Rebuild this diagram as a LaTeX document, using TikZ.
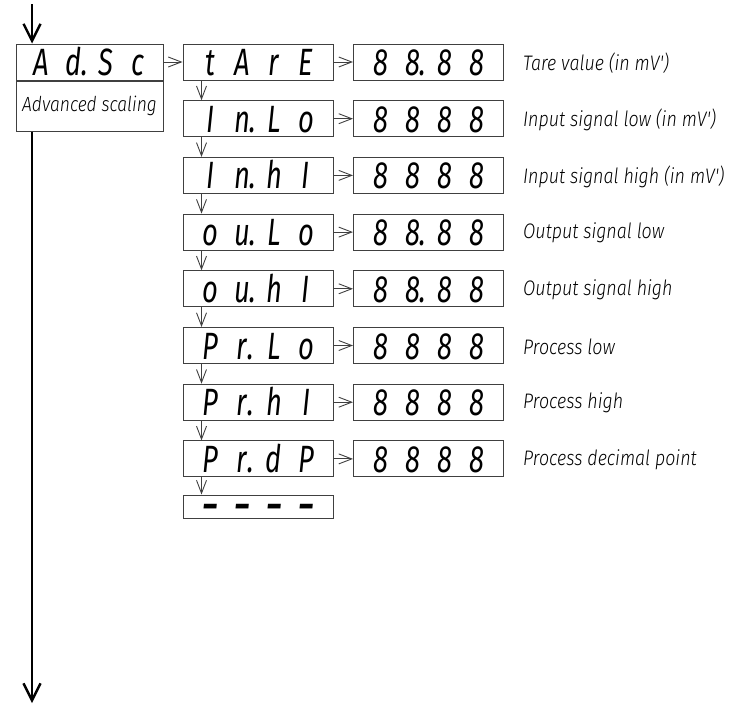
\documentclass[tikz,border=0pt]{standalone}
\usepackage{fontspec}
\usetikzlibrary{arrows.meta,positioning}
\newfontfamily\segfont{Fira Sans}[FakeStretch=0.72]
\newfontfamily\lblfont{Fira Sans Light Italic}[FakeStretch=0.85]
\definecolor{frame}{HTML}{404040}
\newcommand\cell[1]{\makebox[32pt]{#1}}
\newcommand\dpt{\rlap{.}}
\newcommand\disp[4]{\cell{#1}\cell{#2}\cell{#3}\cell{#4}}
\tikzset{
  disp/.style={draw=frame,line width=1pt,minimum width=150pt,minimum height=36pt,inner sep=0pt,
    text height=27pt,text depth=0pt,font=\fontsize{38}{40}\segfont\itshape},
  hdr/.style={disp,minimum width=147pt},
  hdrbody/.style={draw=frame,line width=1pt,minimum width=147pt,minimum height=50pt,inner sep=0pt,
    font=\fontsize{20.5}{22}\lblfont},
  dashes/.style={disp,minimum height=19pt,text height=23pt,font=\fontsize{38}{40}\segfont\bfseries\itshape},
  descr/.style={anchor=west,inner sep=0pt,font=\fontsize{21}{23}\lblfont},
  sarr/.style={-{Straight Barb[length=13pt,width=10pt]},frame,line width=0.9pt},
  mainarr/.style={-{Straight Barb[length=17pt,width=17pt]},black,line width=2.4pt},
}
\begin{document}
\begin{tikzpicture}[x=1pt,y=-1pt]
  \useasboundingbox (0,0) rectangle (739,704);
  \node[hdr] (menu) at (89.5,62) {\disp{A}{d\dpt}{S}{c}};
  \node[hdrbody,below=0pt of menu] (menubody) {Advanced scaling};
  \coordinate (in) at (32,4);
  \coordinate (out) at (32,703);
  \draw[mainarr] (in) -- (in |- menu.north);
  \draw[mainarr] (out |- menubody.south) -- (out);
  \foreach \nm/\val/\txt [count=\k from 0] in {
      \disp{t}{A}{r}{E}/\disp{8}{8\dpt}{8}{8}/Tare value (in mV'),
      \disp{I}{n\dpt}{L}{o}/\disp{8}{8}{8}{8}/Input signal low (in mV'),
      \disp{I}{n\dpt}{h}{I}/\disp{8}{8}{8}{8}/Input signal high (in mV'),
      \disp{o}{u\dpt}{L}{o}/\disp{8}{8\dpt}{8}{8}/Output signal low,
      \disp{o}{u\dpt}{h}{I}/\disp{8}{8\dpt}{8}{8}/Output signal high,
      \disp{P}{r\dpt}{L}{o}/\disp{8}{8}{8}{8}/Process low,
      \disp{P}{r\dpt}{h}{I}/\disp{8}{8}{8}{8}/Process high,
      \disp{P}{r\dpt}{d}{P}/\disp{8}{8}{8}{8}/Process decimal point} {
    \node[disp] (m\k) at (258,62+56.7*\k) {\nm};
    \node[disp] (v\k) at (428.5,62+56.7*\k) {\val};
    \node[descr] (d\k) at (523,63+56.7*\k) {\txt};
    \draw[sarr] (m\k) -- (v\k);
  }
  \node[dashes] (m8) at (258,506.5) {\disp{–}{–}{–}{–}};
  \draw[sarr] (menu) -- (m0);
  \foreach \k [evaluate=\k as \n using int(\k+1)] in {0,...,7}
    \draw[sarr] ([xshift=19pt]m\k.south west) -- ([xshift=19pt]m\n.north west);
\end{tikzpicture}
\end{document}
